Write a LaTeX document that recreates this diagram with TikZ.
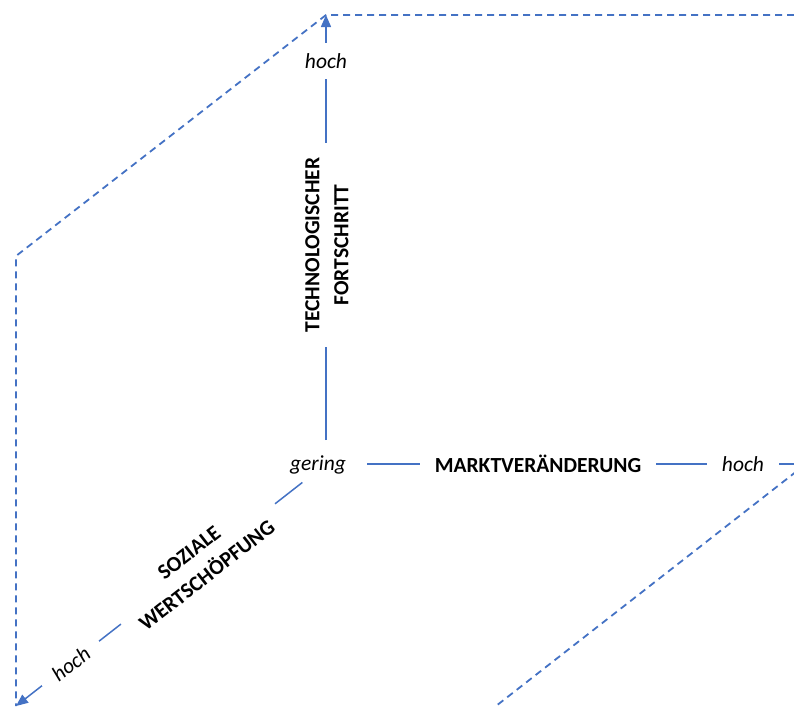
\documentclass[tikz,border=0pt]{standalone}
\usepackage{fontspec}
\setmainfont{Carlito}
\usetikzlibrary{arrows.meta}
\definecolor{axblue}{HTML}{4472C4}
\begin{document}
\begin{tikzpicture}[x=0.5pt,y=-0.5pt,
  font=\fontsize{10.75}{14}\selectfont,
  axis/.style={draw=axblue, line width=0.75pt},
  axarrow/.style={axis, -{Triangle[width=5pt,length=6pt]}},
  framepart/.style={draw=axblue, line width=0.9pt, dash pattern=on 3.5pt off 2.5pt},
  lbl/.style={fill=white, inner xsep=7.5pt, inner ysep=5pt},
  ttl/.style={lbl, font=\fontsize{10.75}{14.5}\selectfont\bfseries, align=center},
  endlbl/.style={font=\fontsize{10.75}{14}\selectfont\itshape}]
\useasboundingbox (0,0) rectangle (794,707);
\clip (0,0) rectangle (794,707);
\coordinate (O) at (326,464);
\coordinate (T) at (326,15);
\coordinate (R) at (806,464);
\coordinate (L) at (16,706);
\coordinate (A) at (16,256);
\coordinate (TR) at (806,15);
\coordinate (BR) at (496,706);
% dashed frame
\draw[framepart] (TR) -- (T) -- (A) -- (L);
\draw[framepart] (R) -- (BR);
% axes
\draw[axarrow, shorten <=12pt] (O) -- (T);
\draw[axarrow, shorten <=20.5pt] (O) -- (R);
\draw[axarrow, shorten <=15pt] (O) -- (L);
% labels
\node[lbl, endlbl] (hT) at (326,61) {hoch};
\node[ttl, rotate=90] (tech) at (327,245) {TECHNOLOGISCHER\\FORTSCHRITT};
\node[endlbl] (ger) at (318,465) {gering};
\node[ttl] (markt) at (538,464) {MARKTVERÄNDERUNG};
\node[lbl, endlbl] (hR) at (743,464) {hoch};
\node[ttl, rotate=38] (soz) at (198,564) {SOZIALE\\WERTSCHÖPFUNG};
\node[lbl, endlbl, rotate=38] (hL) at (71,664) {hoch};
\end{tikzpicture}
\end{document}
